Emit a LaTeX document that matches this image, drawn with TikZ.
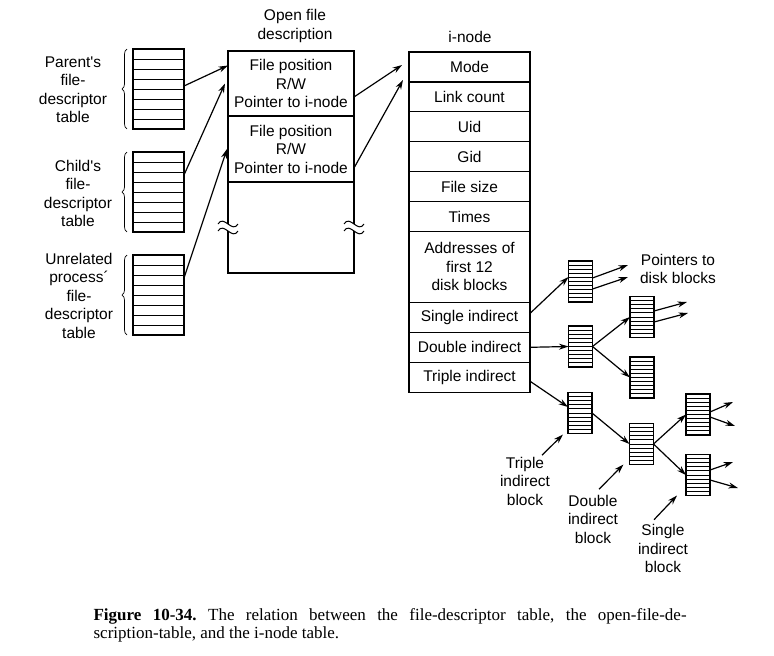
\documentclass[tikz,border=0pt]{standalone}
\usepackage{fontspec}
\setmainfont{Liberation Sans}
\newfontfamily\capserif{Liberation Serif}
\usetikzlibrary{arrows.meta,positioning,decorations.pathreplacing}

\begin{document}
\begin{tikzpicture}[x=1pt, y=-1pt, line width=1.2pt,
  every node/.style={font=\fontsize{15.5}{18.5}\selectfont},
  >={Stealth[length=9.5pt,width=6pt]},
  fdtab/.style={draw, minimum width=51pt, minimum height=80pt, inner sep=0pt, outer sep=0pt,
    path picture={\foreach \k in {1,...,7}
      \draw[line width=1pt] ([yshift=-\k*10pt]path picture bounding box.north west) -- ([yshift=-\k*10pt]path picture bounding box.north east);}},
  blk/.style={draw, minimum width=24pt, minimum height=41pt, inner sep=0pt, outer sep=0pt,
    path picture={\foreach \k in {1,...,9}
      \draw[line width=0.9pt] ([yshift=-\k*4.1pt]path picture bounding box.north west) -- ([yshift=-\k*4.1pt]path picture bounding box.north east);}},
  cell/.style={draw, minimum width=121pt, minimum height=29.9pt, inner sep=0pt, outer sep=0pt, align=center},
  ofdcell/.style={draw, minimum width=126pt, inner sep=0pt, outer sep=0pt, align=center},
  lbl/.style={align=center, inner sep=1pt},
  brc/.style={decorate, decoration={brace, amplitude=5pt}, line width=0.7pt}]
  \useasboundingbox (0,0) rectangle (774,656);

  % file-descriptor tables
  \node[fdtab] (ptab) at (158.5,89) {};
  \node[fdtab] (ctab) at (158.5,192) {};
  \node[fdtab] (utab) at (158.5,295) {};
  \node[lbl] (plab) at (73,89.5) {Parent\textquotesingle s\\file-\\descriptor\\table};
  \node[lbl] (clab) at (78,193.5) {Child\textquotesingle s\\file-\\descriptor\\table};
  \node[lbl] (ulab) at (79,295.5) {Unrelated\\process´\\file-\\descriptor\\table};
  \draw[brc] ([xshift=-6pt]ptab.south west) -- ([xshift=-6pt]ptab.north west);
  \draw[brc] ([xshift=-6pt]ctab.south west) -- ([xshift=-6pt]ctab.north west);
  \draw[brc] ([xshift=-6pt]utab.south west) -- ([xshift=-6pt]utab.north west);

  % open file description
  \node[lbl] (ofdtitle) at (295,26) {Open file\\description};
  \node[ofdcell, minimum height=65pt] (ofda) at (291,83.5) {File position\\R/W\\Pointer to i-node};
  \node[ofdcell, minimum height=66pt, below=0pt of ofda] (ofdb) {File position\\R/W\\Pointer to i-node};
  \node[ofdcell, minimum height=91pt, below=0pt of ofdb] (ofdc) {};
  \foreach \side in {west,east} {
    \fill[white] ([xshift=-3pt,yshift=3.5pt]ofdc.\side) rectangle ([xshift=3pt,yshift=-3.5pt]ofdc.\side);
    \foreach \dy in {3.5,-3.5}
      \draw[line width=1pt] ([xshift=-10pt,yshift=\dy pt]ofdc.\side) .. controls +(6pt,10pt) and +(-6pt,-10pt) .. ([xshift=10pt,yshift=\dy pt]ofdc.\side);
  }

  % i-node
  \node (ititle) at (470,37) {i-node};
  \node[cell] (mode) at (469.5,67) {Mode};
  \node[cell, below=0pt of mode] (lnk) {Link count};
  \node[cell, below=0pt of lnk] (uid) {Uid};
  \node[cell, below=0pt of uid] (gid) {Gid};
  \node[cell, below=0pt of gid] (fsz) {File size};
  \node[cell, below=0pt of fsz] (tms) {Times};
  \node[cell, minimum height=71pt, below=0pt of tms] (addr) {Addresses of\\first 12\\disk blocks};
  \node[cell, below=0pt of addr] (sgl) {Single indirect};
  \node[cell, below=0pt of sgl] (dbl) {Double indirect};
  \node[cell, below=0pt of dbl] (trp) {Triple indirect};

  % indirect blocks
  \node[blk] (b1) at (580.5,281.5) {};
  \node[blk] (b2) at (580.5,346.5) {};
  \node[blk] (b3) at (642,317) {};
  \node[blk] (b4) at (642,377.5) {};
  \node[blk] (b5) at (580,413) {};
  \node[blk] (b6) at (641.5,444) {};
  \node[blk] (b7) at (698,414.5) {};
  \node[blk] (b8) at (698,475) {};
  \node[lbl] (ptrlab) at (678,269) {Pointers to\\disk blocks};
  \node[lbl] (tlab) at (525,481) {Triple\\indirect\\block};
  \node[lbl] (dlab) at (593,519) {Double\\indirect\\block};
  \node[lbl] (slab) at (663,548.5) {Single\\indirect\\block};

  % free ends of the disk pointers
  \coordinate (d1) at (628,265);
  \coordinate (d2) at (628,277);
  \coordinate (d3) at (687,302);
  \coordinate (d4) at (688,313);
  \coordinate (d5) at (733,402);
  \coordinate (d6) at (735,426);
  \coordinate (d7) at (733,462);
  \coordinate (d8) at (738,488);

  % connectors
  \draw[->] ([yshift=3pt]ptab.east) -- ([yshift=18pt]ofda.west);
  \draw[->] ([yshift=17pt]ctab.east) -- ([xshift=-3pt]ofda.west);
  \draw[->] ([yshift=17pt]utab.east) -- ([xshift=-1pt]ofdb.west);
  \draw[->] ([yshift=-13.5pt]ofda.east) -- ([xshift=-7pt,yshift=2pt]mode.west);
  \draw[->] ([yshift=-19pt]ofdb.east) -- ([xshift=-6pt,yshift=-13pt]mode.west);
  \draw[->] ([yshift=4pt]sgl.east) -- ([yshift=4.5pt]b1.west);
  \draw[->] (dbl.east) -- (b2.west);
  \draw[->] ([yshift=-4pt]trp.east) -- ([yshift=6pt]b5.west);
  \draw[->] (b2.east) -- (b3.west);
  \draw[->] (b2.east) -- (b4.west);
  \draw[->] (b5.east) -- (b6.west);
  \draw[->] (b6.east) -- (b7.west);
  \draw[->] (b6.east) -- (b8.west);
  \draw[->] ([yshift=3.5pt]b1.east) -- (d1);
  \draw[->] ([yshift=-7.5pt]b1.east) -- (d2);
  \draw[->] ([yshift=6pt]b3.east) -- (d3);
  \draw[->] ([yshift=-5pt]b3.east) -- (d4);
  \draw[->] ([yshift=2.5pt]b7.east) -- (d5);
  \draw[->] ([yshift=-2.5pt]b7.east) -- (d6);
  \draw[->] ([yshift=5pt]b8.east) -- (d7);
  \draw[->] ([yshift=-5pt]b8.east) -- (d8);
  \draw[->] ([xshift=17pt]tlab.north) -- ([xshift=-5pt,yshift=-1pt]b5.south west);
  \draw[->] ([xshift=6pt,yshift=4pt]dlab.north) -- ([xshift=-6pt]b6.south west);
  \draw[->] ([xshift=-9pt,yshift=3pt]slab.north) -- ([xshift=-9pt]b8.south west);

  % caption
  \node[anchor=base west, text width=593pt, align=justify, inner sep=0pt,
    font=\capserif\fontsize{17}{18}\selectfont\frenchspacing] (cap) at (93,620)
    {\textbf{Figure 10-34.} The relation between the file-descriptor table, the open-file-de-\linebreak scription-table, and the i-node table.};
\end{tikzpicture}
\end{document}
